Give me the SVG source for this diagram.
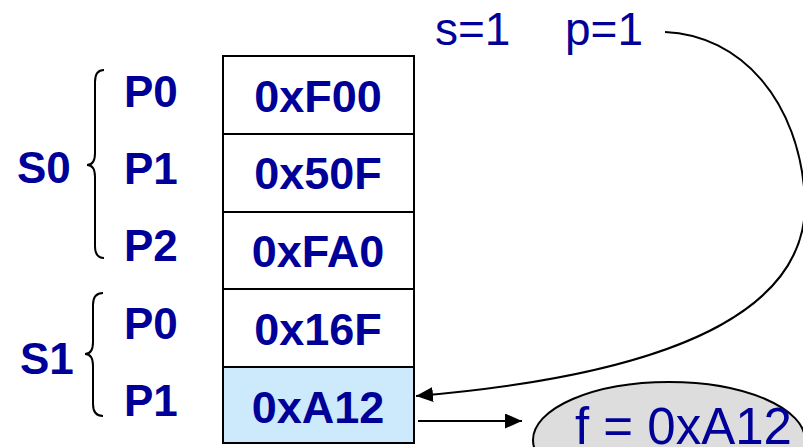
<svg xmlns="http://www.w3.org/2000/svg" width="803" height="447" viewBox="0 0 803 447">
<style>
.lbl{font-family:"Liberation Sans",Arial,sans-serif;font-weight:bold;font-size:44px;fill:#000099}
.cell{fill:#ffffff;stroke:#000;stroke-width:2}
.val{font-family:"Liberation Sans",Arial,sans-serif;font-weight:bold;font-size:45px;fill:#000099;text-anchor:middle}
.reg{font-family:"Liberation Sans",Arial,sans-serif;font-size:46px;fill:#000099}
.brace{fill:none;stroke:#000;stroke-width:2}
.conn{fill:none;stroke:#000;stroke-width:2}
</style>
<defs>
<marker id="ah" viewBox="0 0 17 15" refX="17" refY="7.5" markerWidth="17" markerHeight="15" markerUnits="userSpaceOnUse" orient="auto">
<path d="M0,0 L17,7.5 L0,15 Z" fill="#000"/>
</marker>
</defs>
<g id="labels">
<text class="lbl" x="17" y="183">S0</text>
<text class="lbl" x="20" y="374">S1</text>
<text class="lbl" x="124" y="107">P0</text>
<text class="lbl" x="124" y="184">P1</text>
<text class="lbl" x="124" y="261">P2</text>
<text class="lbl" x="124" y="339">P0</text>
<text class="lbl" x="124" y="416">P1</text>
<path class="brace" d="M104,70 Q95,70 95,82 L95,153 Q95,165 87,165 Q95,165 95,177 L95,246 Q95,258 104,258"/>
<path class="brace" d="M103,293 Q93,293 93,305 L93,342 Q93,354 85,354 Q93,354 93,366 L93,404 Q93,416 103,416"/>
</g>
<g id="table">
<g id="row0"><rect class="cell" x="223" y="56" width="191" height="78"/><text class="val" x="318" y="112">0xF00</text></g>
<g id="row1"><rect class="cell" x="223" y="134" width="191" height="78"/><text class="val" x="318" y="189">0x50F</text></g>
<g id="row2"><rect class="cell" x="223" y="212" width="191" height="77"/><text class="val" x="318" y="267">0xFA0</text></g>
<g id="row3"><rect class="cell" x="223" y="289" width="191" height="78"/><text class="val" x="318" y="345">0x16F</text></g>
<g id="row4"><rect class="cell" x="223" y="367" width="191" height="76" style="fill:#cceafb"/><text class="val" x="318" y="423">0xA12</text></g>
</g>
<g id="sp">
<text class="reg" x="435" y="45">s=1</text>
<text class="reg" x="565" y="45">p=1</text>
</g>
<g id="result">
<ellipse cx="669" cy="440" rx="136" ry="58" fill="#dddddd" stroke="#000" stroke-width="2"/>
<text class="reg" x="575" y="444" style="font-size:51px">f = 0xA12</text>
</g>
<g id="connectors">
<path class="conn" d="M665,32 C740,35 800,100 805,200 C808,300 700,372 416,396" marker-end="url(#ah)"/>
<path class="conn" d="M418,421 L522,421" marker-end="url(#ah)"/>
</g>
</svg>
